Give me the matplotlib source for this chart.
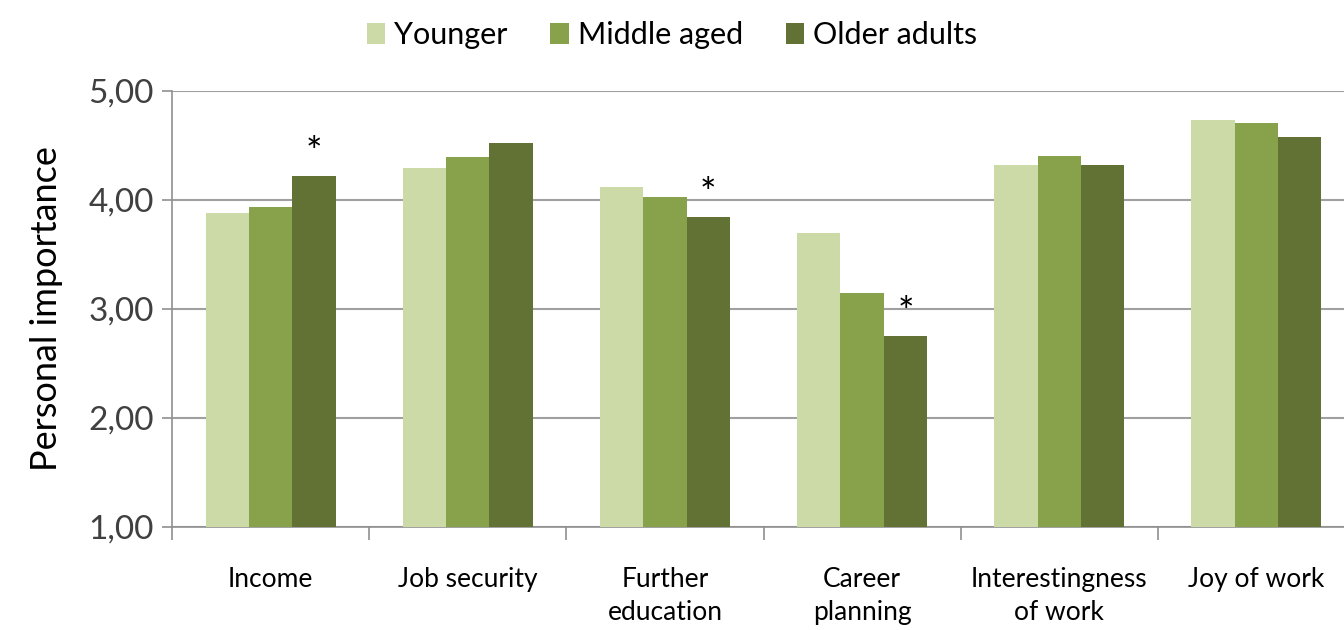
import numpy as np
import matplotlib.pyplot as plt
from matplotlib import rcParams

rcParams['font.family'] = ['Lato', 'DejaVu Sans']

categories = ['Income', 'Job security', 'Further\neducation', 'Career\nplanning',
              'Interestingness\nof work', 'Joy of work']
series = ['Younger', 'Middle aged', 'Older adults']
younger = [3.88, 4.29, 4.12, 3.70, 4.32, 4.73]
middle = [3.94, 4.39, 4.03, 3.15, 4.40, 4.71]
older = [4.22, 4.52, 3.84, 2.75, 4.32, 4.58]
starred = [0, 2, 3]  # significant for older adults
yticks = [1, 2, 3, 4, 5]
ytick_labels = ['1,00', '2,00', '3,00', '4,00', '5,00']

colors = ['#cbdaa7', '#87a24b', '#627235']

fig = plt.figure(figsize=(13.44, 6.3), dpi=100)
ax = fig.add_axes([172/1344, 1 - 527/630, (1355 - 172)/1344, (527 - 91)/630])

x = np.arange(len(categories))
w = 0.22
for i, (vals, name) in enumerate(zip([younger, middle, older], series)):
    ax.bar(x + (i - 1)*w, vals, w, color=colors[i], label=name, zorder=3)

for k in starred:
    ax.text(x[k] + w, older[k] + 0.04, '*', ha='center', va='bottom',
            fontsize=28, color='black', zorder=4)

ax.set_xlim(-0.5, len(categories) - 0.5)
ax.set_ylim(1, 5)
ax.set_yticks(yticks)
ax.set_yticklabels(ytick_labels, fontsize=24, color='#404040')
ax.set_xticks(x)
ax.set_xticklabels(categories, fontsize=19, color='black', linespacing=1.4)
ax.set_xticks(np.arange(-0.5, len(categories), 1), minor=True)
ax.tick_params(axis='x', which='major', length=0, pad=29)
ax.tick_params(axis='x', which='minor', length=9, color='#909090', width=1.2)
ax.tick_params(axis='y', length=7, color='#909090', width=1.2, pad=6)

ax.grid(axis='y', color='#a0a0a0', linewidth=1.5, zorder=0)
for s in ['top', 'right']:
    ax.spines[s].set_visible(False)
for s in ['left', 'bottom']:
    ax.spines[s].set_color('#909090')
    ax.spines[s].set_linewidth(1.2)

ax.set_ylabel('Personal importance', fontsize=26, labelpad=18)

fig.legend(loc='upper center', bbox_to_anchor=(0.5, 1.01), ncol=3, frameon=False,
           fontsize=22, handlelength=0.6, handleheight=0.7, handletextpad=0.3,
           columnspacing=1.4)

fig.savefig('out.png', dpi=100)
